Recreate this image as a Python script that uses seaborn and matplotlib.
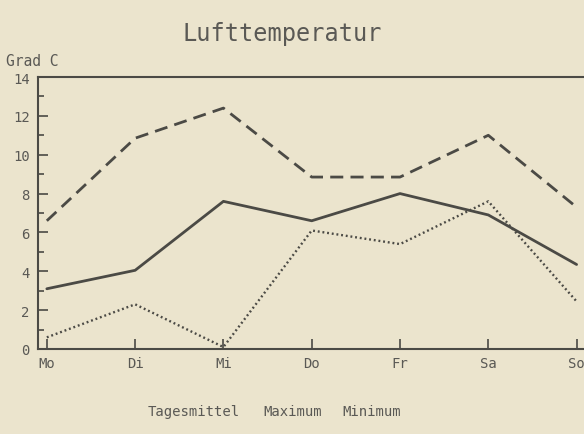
import pandas as pd
import matplotlib.pyplot as plt
import seaborn as sns
from matplotlib.ticker import MultipleLocator

# Daten
tage = ['Mo', 'Di', 'Mi', 'Do', 'Fr', 'Sa', 'So']
tagesmittel = [3.1, 4.05, 7.6, 6.6, 8.0, 6.9, 4.35]
maximum = [6.6, 10.85, 12.4, 8.85, 8.85, 11.0, 7.3]
minimum = [0.6, 2.3, 0.1, 6.1, 5.4, 7.6, 2.45]

serien = ['Tagesmittel', 'Maximum', 'Minimum']

df = pd.DataFrame({
    'x': list(range(len(tage))) * 3,
    'wert': tagesmittel + maximum + minimum,
    'serie': [s for s in serien for _ in tage],
})

bg = '#ebe4cd'
ink = '#4b4a45'
txt = '#5a5955'

sns.set_theme(style='white')
# Plotter-Schrift nachahmen
plt.rcParams['font.family'] = ['DejaVu Sans Mono']

fig = plt.figure(figsize=(5.84, 4.35), dpi=100, facecolor=bg)
ax = fig.add_axes([38 / 584, 1 - 350 / 435, 1 - 38 / 584 + 0.01, (350 - 78) / 435])
ax.set_facecolor(bg)

sns.lineplot(data=df, x='x', y='wert', hue='serie', style='serie',
             palette={s: ink for s in serien},
             dashes={'Tagesmittel': '', 'Maximum': (4.7, 2.6), 'Minimum': (0.8, 1.2)},
             linewidth=2.0, legend=False, ax=ax)
# Minimum etwas feiner
ax.lines[2].set_linewidth(1.7)

ax.set_xlim(-0.1, 6.15)
ax.set_ylim(0, 14)
ax.set_xticks(range(len(tage)))
ax.set_xticklabels(tage)
ax.yaxis.set_major_locator(MultipleLocator(2))
ax.yaxis.set_minor_locator(MultipleLocator(1))
ax.tick_params(axis='both', which='major', direction='in', length=7, width=1.2,
               colors=ink, labelcolor=txt, labelsize=10, left=True, bottom=True)
ax.tick_params(axis='y', which='minor', direction='in', length=4, width=1.2,
               colors=ink, left=True)
ax.tick_params(axis='x', pad=5)
ax.tick_params(axis='y', pad=6)
ax.set_xlabel('')
ax.set_ylabel('')

for side in ['left', 'bottom', 'top']:
    ax.spines[side].set_color(ink)
    ax.spines[side].set_linewidth(1.5)
ax.spines['right'].set_visible(False)

fig.text(282 / 584, 1 - 34 / 435, 'Lufttemperatur', ha='center', va='center',
         fontsize=17, color=txt)
fig.text(6 / 584, 1 - 61 / 435, 'Grad C', ha='left', va='center',
         fontsize=10.5, color=txt)

# Legende nur als Text
for xpos, name in zip([194, 293, 372], serien):
    fig.text(xpos / 584, 1 - 412 / 435, name, ha='center', va='center',
             fontsize=10, color=txt)

fig.savefig('out.png', dpi=100, facecolor=bg)
